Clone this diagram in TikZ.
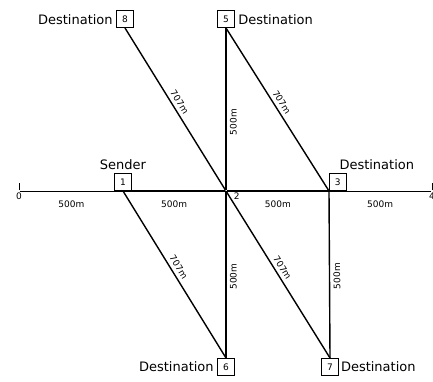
\documentclass[tikz,border=0pt]{standalone}
\usepackage{fontspec}
\setmainfont{DejaVu Sans}
\usetikzlibrary{positioning}

\begin{document}
\begin{tikzpicture}
	[   x=1pt,y=-1pt,
		nbox/.style={draw=black,fill=white,line width=0.6pt,minimum size=17pt,inner sep=0pt,font=\fontsize{9}{10}\selectfont},
		dist/.style={font=\fontsize{9}{10}\selectfont},
		every label/.style={font=\fontsize{13}{15}\selectfont},
	]
	\tikzset{road/.style={draw,line width=1.4pt}}
	\useasboundingbox (0,0) rectangle (433,381);
	
	\node[inner sep=0pt,label={[dist,inner sep=1pt]below:0}] (n-0) at (19,191) {};
	\node[inner sep=0pt,label={[dist,inner sep=1pt]below:4}] (n-4) at (432,191) {};
	\node[inner sep=0pt,label={[dist,inner sep=1pt,xshift=6pt]south east:2}] (n-2) at (226,191) {};
	
	\node[nbox,anchor=south,label=90:Sender] (n-1) at (123,191) {1};
	\node[nbox,anchor=south west,label={[xshift=39pt]90:Destination}] (n-3) at (329,191) {3};
	\node[nbox,anchor=south,label=0:Destination] (n-5) at (226,28) {5};
	\node[nbox,anchor=north,label=180:Destination] (n-6) at (226,358) {6};
	\node[nbox,anchor=north,label={[inner sep=2pt]0:Destination}] (n-7) at (330,358) {7};
	\node[nbox,anchor=south,label=180:Destination] (n-8) at (125,28) {8};
	
	\draw[line width=0.8pt] ([yshift=1pt]n-0.center) -- ([yshift=8pt]n-0.center);
	\draw[line width=0.8pt] ([yshift=1pt]n-4.center) -- ([yshift=8pt]n-4.center);
	\draw[line width=0.7pt] (n-0) -- (n-4);
	\path[road] (n-1.south) -- (n-2) -- (n-3.south west);
	
	\foreach \a/\b in {n-0/n-1.south, n-1.south/n-2, n-2/n-3.south west, n-3.south west/n-4}
		\path (\a) -- node[dist,below=6pt] {500m} (\b);
	\foreach \a/\b in {n-8.south/n-2, n-5.south/n-3.south west, n-1.south/n-6.north, n-2/n-7.north}
		\path[road] (\a) -- node[dist,above,sloped,pos=0.48] {707m} (\b);
	\foreach \a/\b/\p in {n-2/n-5.south/0.42, n-6.north/n-2/0.49, n-7.north/n-3.south west/0.49}
		\path[road] (\a) -- node[dist,below,sloped,allow upside down,pos=\p] {500m} (\b);
\end{tikzpicture}
\end{document}
